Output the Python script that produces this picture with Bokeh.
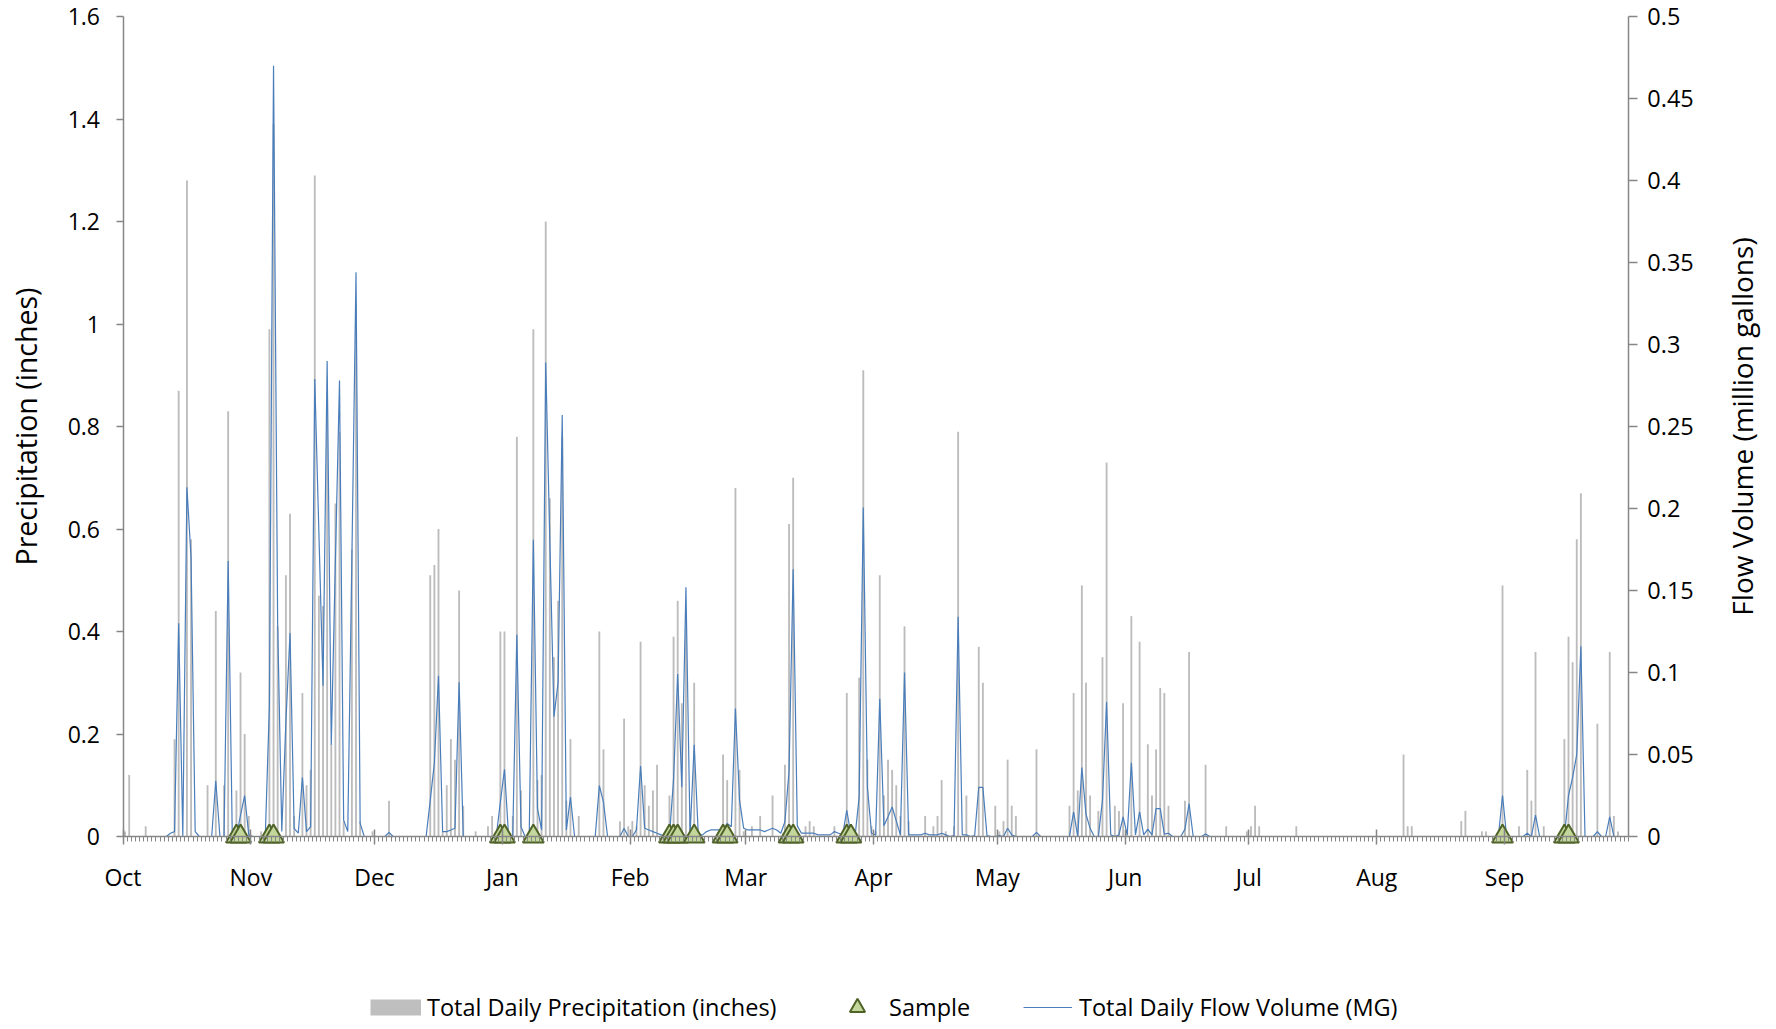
from math import pi
from bokeh.plotting import figure
from bokeh.models import (Range1d, LinearAxis, FixedTicker, NumeralTickFormatter,
                          Label, Legend, LegendItem)
from bokeh.embed import file_html
from bokeh.resources import INLINE

# ---------------- data ----------------
months = ["Oct", "Nov", "Dec", "Jan", "Feb", "Mar", "Apr", "May", "Jun", "Jul", "Aug", "Sep"]
month_lengths = [31, 30, 31, 31, 28, 31, 30, 31, 30, 31, 31, 30]

# Total daily precipitation (inches), one list per month
precip_oct = [0.01, 0.12, 0, 0, 0, 0.02, 0, 0, 0, 0, 0, 0, 0.19, 0.87, 0, 1.28, 0.58, 0, 0, 0,
              0.10, 0, 0.44, 0, 0.10, 0.83, 0, 0.09, 0.32, 0.20, 0.04]
precip_nov = [0, 0, 0.01, 0, 0.99, 1.39, 0.41, 0, 0.51, 0.63, 0.04, 0, 0.28, 0.10, 0.13, 1.29,
              0.47, 0.45, 0.85, 0.18, 0.65, 0.79, 0.03, 0, 0.56, 1.04, 0.03, 0, 0, 0.01]
precip_dec = [0, 0, 0, 0.07, 0, 0, 0, 0, 0, 0, 0, 0, 0, 0.51, 0.53, 0.60, 0.01, 0.10, 0.19, 0.15,
              0.48, 0.06, 0, 0, 0.01, 0, 0, 0.02, 0.04, 0, 0.40]
precip_jan = [0.40, 0, 0.04, 0.78, 0.09, 0, 0, 0.99, 0.11, 0.12, 1.20, 0.66, 0.35, 0.46, 0.78,
              0.07, 0.19, 0, 0.04, 0, 0, 0, 0, 0.40, 0.17, 0, 0, 0, 0.03, 0.23, 0.02]
precip_feb = [0.03, 0.02, 0.38, 0.10, 0.06, 0.09, 0.14, 0, 0, 0.08, 0.39, 0.46, 0.26, 0.44, 0.03,
              0.30, 0, 0, 0, 0, 0, 0, 0.16, 0.11, 0, 0.68, 0.13, 0.01]
precip_mar = [0, 0.02, 0, 0.04, 0, 0, 0.08, 0, 0, 0.14, 0.61, 0.70, 0, 0, 0.02, 0.03, 0.02, 0, 0,
              0, 0, 0.02, 0, 0, 0.28, 0, 0, 0.31, 0.91, 0.15, 0.02]
precip_apr = [0.01, 0.51, 0.08, 0.15, 0.13, 0.10, 0.04, 0.41, 0.03, 0, 0, 0, 0.04, 0, 0.02, 0.04,
              0.11, 0.01, 0, 0.02, 0.79, 0, 0.08, 0, 0, 0.37, 0.30, 0, 0, 0.06]
precip_may = [0.01, 0.03, 0.15, 0.06, 0.04, 0, 0, 0, 0, 0.17, 0, 0, 0, 0, 0, 0, 0, 0.06, 0.28,
              0.09, 0.49, 0.30, 0.08, 0, 0.05, 0.35, 0.73, 0, 0.06, 0.05, 0.26]
precip_jun = [0.01, 0.43, 0, 0.38, 0, 0.18, 0.08, 0.17, 0.29, 0.28, 0.06, 0, 0, 0, 0.07, 0.36, 0,
              0, 0, 0.14, 0, 0, 0, 0, 0.02, 0, 0, 0, 0, 0.01]
precip_jul = [0.02, 0.06, 0.02, 0, 0, 0, 0, 0, 0, 0, 0, 0.02, 0, 0, 0, 0, 0, 0, 0, 0, 0, 0, 0, 0,
              0, 0, 0, 0, 0, 0, 0]
precip_aug = [0, 0, 0, 0, 0, 0, 0.16, 0.02, 0.02, 0, 0, 0, 0, 0, 0, 0, 0, 0, 0, 0, 0.03, 0.05, 0,
              0, 0, 0.01, 0.01, 0, 0, 0, 0.49]
precip_sep = [0, 0, 0, 0.02, 0, 0.13, 0.07, 0.36, 0, 0.02, 0, 0, 0, 0, 0.19, 0.39, 0.34, 0.58,
              0.67, 0, 0, 0, 0.22, 0, 0, 0.36, 0.04, 0.01, 0, 0]

# Total daily flow volume (million gallons), one list per month
flow_oct = [0, 0, 0, 0, 0, 0, 0, 0, 0, 0, 0, 0.002, 0.003, 0.130, 0, 0.213, 0.170, 0.003, 0, 0,
            0, 0, 0.034, 0, 0, 0.168, 0, 0, 0.013, 0.025, 0.001]
flow_nov = [0, 0, 0, 0, 0.080, 0.470, 0.130, 0.003, 0.070, 0.124, 0.005, 0.002, 0.036, 0.003,
            0.006, 0.279, 0.185, 0.092, 0.290, 0.056, 0.168, 0.278, 0.010, 0.003, 0.170, 0.344,
            0.008, 0, 0, 0]
flow_dec = [0, 0, 0, 0.0025, 0, 0, 0, 0, 0, 0, 0, 0, 0, 0.022, 0.045, 0.098, 0.003, 0.003, 0.004,
            0.005, 0.094, 0, 0, 0, 0, 0, 0, 0, 0, 0, 0.021]
flow_jan = [0.041, 0, 0, 0.123, 0.006, 0, 0, 0.181, 0.017, 0.004, 0.289, 0.180, 0.073, 0.094,
            0.257, 0.004, 0.024, 0, 0, 0, 0, 0, 0, 0.031, 0.021, 0, 0, 0, 0, 0.005, 0]
flow_feb = [0, 0.004, 0.043, 0.005, 0.004, 0.003, 0.002, 0.001, 0, 0, 0.035, 0.099, 0.030, 0.152,
            0.001, 0.056, 0.001, 0.001, 0.003, 0.004, 0.004, 0.004, 0.004, 0.008, 0.006, 0.078,
            0.022, 0.005]
flow_mar = [0.004, 0.004, 0.004, 0.004, 0.003, 0.004, 0.005, 0.004, 0.002, 0.009, 0.040, 0.163,
            0.0065, 0.002, 0.002, 0.002, 0.002, 0.001, 0.001, 0.001, 0.001, 0.003, 0.002, 0.001,
            0.016, 0.001, 0, 0.024, 0.2006, 0.030, 0.002]
flow_apr = [0.001, 0.084, 0.0065, 0.012, 0.018, 0.0095, 0.001, 0.100, 0.001, 0.001, 0.001, 0.001,
            0.002, 0.001, 0.001, 0.001, 0.002, 0.001, 0, 0.0005, 0.134, 0.001, 0.001, 0, 0.0005,
            0.030, 0.030, 0.0005, 0, 0]
flow_may = [0.0005, 0, 0.005, 0.001, 0, 0, 0, 0, 0, 0.0025, 0, 0, 0, 0, 0, 0, 0, 0, 0.015, 0,
            0.042, 0.0136, 0.005, 0, 0, 0.022, 0.082, 0.001, 0, 0.001, 0.012]
flow_jun = [0.001, 0.045, 0.001, 0.015, 0.001, 0.0045, 0.001, 0.017, 0.017, 0.0015, 0.002, 0, 0,
            0, 0.0045, 0.020, 0, 0, 0, 0.0015, 0, 0, 0, 0, 0, 0, 0, 0, 0, 0]
flow_jul = [0, 0, 0, 0, 0, 0, 0, 0, 0, 0, 0, 0, 0, 0, 0, 0, 0, 0, 0, 0, 0, 0, 0, 0, 0, 0, 0, 0,
            0, 0, 0]
flow_aug = [0, 0, 0, 0, 0, 0, 0, 0, 0, 0, 0, 0, 0, 0, 0, 0, 0, 0, 0, 0, 0, 0, 0, 0, 0, 0, 0, 0,
            0, 0, 0.025]
flow_sep = [0, 0, 0, 0, 0, 0.002, 0, 0.013, 0, 0, 0, 0, 0, 0, 0, 0.025, 0.036, 0.050, 0.116, 0,
            0, 0, 0.003, 0, 0, 0.012, 0, 0, 0, 0]

# Sampling events (day index counted from Oct 1) plotted on the flow axis at zero
sample_days = [27, 28, 35, 36, 91, 92, 99, 132, 133, 134, 138, 145, 146, 161, 162, 175, 176,
               334, 349, 350]
sample_flow = [0, 0, 0, 0, 0, 0, 0, 0, 0, 0, 0, 0, 0, 0, 0, 0, 0, 0, 0, 0]

left_ticks = [0, 0.2, 0.4, 0.6, 0.8, 1.0, 1.2, 1.4, 1.6]
right_ticks = [0, 0.05, 0.1, 0.15, 0.2, 0.25, 0.3, 0.35, 0.4, 0.45, 0.5]
left_max = 1.6
right_max = 0.5

# ---------------- assemble ----------------
precip = (precip_oct + precip_nov + precip_dec + precip_jan + precip_feb + precip_mar +
          precip_apr + precip_may + precip_jun + precip_jul + precip_aug + precip_sep)
flow = (flow_oct + flow_nov + flow_dec + flow_jan + flow_feb + flow_mar + flow_apr + flow_may +
        flow_jun + flow_jul + flow_aug + flow_sep)
n_days = sum(month_lengths)
day_x = [d + 0.5 for d in range(n_days)]
sample_x = [d + 0.5 for d in sample_days]
month_starts = []
acc = 0
for m in month_lengths:
    month_starts.append(acc)
    acc += m

# ---------------- geometry (pixels) ----------------
W, H = 1776, 1029
PL, PR = 122.5, 1627.8     # plot area left / right
PT, PB = 16.0, 836.0       # plot area top / bottom (zero line)
ppd = (PR - PL) / n_days
ppi = (PB - PT) / left_max
x_start = -PL / ppd
x_end = (W - PL) / ppd
y_end = PB / ppi
y_start = -(H - PB) / ppi
k = right_max / left_max

FONT = "Open Sans"
AXIS_COLOR = "#868686"

p = figure(width=W, height=H, output_backend="svg", toolbar_location=None, tools="",
           x_range=Range1d(x_start, x_end), y_range=Range1d(y_start, y_end),
           min_border_left=0, min_border_right=0, min_border_top=0, min_border_bottom=0,
           background_fill_color="white", border_fill_color="white")
p.outline_line_color = None
p.xgrid.visible = False
p.ygrid.visible = False
p.extra_y_ranges = {"flow": Range1d(y_start * k, y_end * k)}

# x axis
xa = p.xaxis[0]
xa.fixed_location = 0
xa.bounds = (0, n_days)
xa.ticker = FixedTicker(ticks=month_starts, minor_ticks=list(range(n_days + 1)))
xa.major_label_overrides = {ms: nm for ms, nm in zip(month_starts, months)}
xa.axis_line_color = AXIS_COLOR
xa.axis_line_width = 1.5
xa.major_tick_line_color = AXIS_COLOR
xa.major_tick_line_width = 1.5
xa.major_tick_in = 7
xa.major_tick_out = 8
xa.minor_tick_line_color = AXIS_COLOR
xa.minor_tick_line_width = 1
xa.minor_tick_in = 0
xa.minor_tick_out = 5
xa.major_label_standoff = 16
xa.major_label_text_font = FONT
xa.major_label_text_font_size = "23px"
xa.major_label_text_color = "black"

# left axis
ya = p.yaxis[0]
ya.fixed_location = 0
ya.bounds = (0, left_max)
ya.ticker = FixedTicker(ticks=left_ticks)
ya.formatter = NumeralTickFormatter(format="0.[0]")
ya.axis_line_color = AXIS_COLOR
ya.axis_line_width = 1.5
ya.major_tick_line_color = AXIS_COLOR
ya.major_tick_line_width = 1.5
ya.major_tick_in = 0
ya.major_tick_out = 7
ya.minor_tick_line_color = None
ya.major_label_standoff = 16
ya.major_label_text_font = FONT
ya.major_label_text_font_size = "23px"
ya.major_label_text_color = "black"

# right axis
ra = LinearAxis(y_range_name="flow", fixed_location=n_days, bounds=(0, right_max),
                ticker=FixedTicker(ticks=right_ticks),
                formatter=NumeralTickFormatter(format="0.[00]"))
ra.axis_line_color = AXIS_COLOR
ra.axis_line_width = 1.5
ra.major_tick_line_color = AXIS_COLOR
ra.major_tick_line_width = 1.5
ra.major_tick_in = 0
ra.major_tick_out = 9
ra.minor_tick_line_color = None
ra.major_label_standoff = 10
ra.major_label_text_font = FONT
ra.major_label_text_font_size = "23.5px"
ra.major_label_text_color = "black"
p.add_layout(ra, "right")

# glyphs
bars = p.vbar(x=day_x, top=precip, bottom=0, width=0.45, fill_color="#bcbcbc", line_color=None)
flow_line = p.line(day_x, flow, y_range_name="flow", line_color="#4a7ebb", line_width=1.2)
samples = p.scatter(sample_x, sample_flow, y_range_name="flow", marker="triangle", size=21,
                    fill_color="#c3d69b", line_color="#4f6228", line_width=2)
# legend-only swatch for precipitation: a wide grey stroke kept outside the visible ranges
bar_swatch = p.line([-200, -199], [-10, -10], line_color="#bfbfbf", line_width=16,
                    line_cap="butt")

# axis titles (screen units measured from the bottom-left of the canvas)
p.add_layout(Label(x=25, y=H - 426, x_units="screen", y_units="screen",
                   text="Precipitation (inches)", angle=pi / 2, text_align="center",
                   text_baseline="middle", text_font=FONT, text_font_size="28.5px",
                   text_color="black"))
p.add_layout(Label(x=1741, y=H - 426, x_units="screen", y_units="screen",
                   text="Flow Volume (million gallons)", angle=pi / 2, text_align="center",
                   text_baseline="middle", text_font=FONT, text_font_size="28px",
                   text_color="black"))


def make_legend(label, rend, loc, gw, gh, standoff):
    lg = Legend(items=[LegendItem(label=label, renderers=[rend])], location=loc,
                orientation="horizontal", glyph_width=gw, glyph_height=gh,
                label_standoff=standoff, padding=0, margin=0, spacing=0,
                border_line_color=None, background_fill_alpha=0,
                label_text_font=FONT, label_text_font_size="23.5px", label_text_color="black",
                label_height=17)
    p.add_layout(lg, "center")


make_legend("Total Daily Precipitation (inches)", bar_swatch, (370, 6), 51, 32, 6)
make_legend("Sample", samples, (838, 3), 38, 38, 13)
make_legend("Total Daily Flow Volume (MG)", flow_line, (1023, 6), 49, 32, 7)

open("out.html", "w").write(file_html(p, INLINE))
